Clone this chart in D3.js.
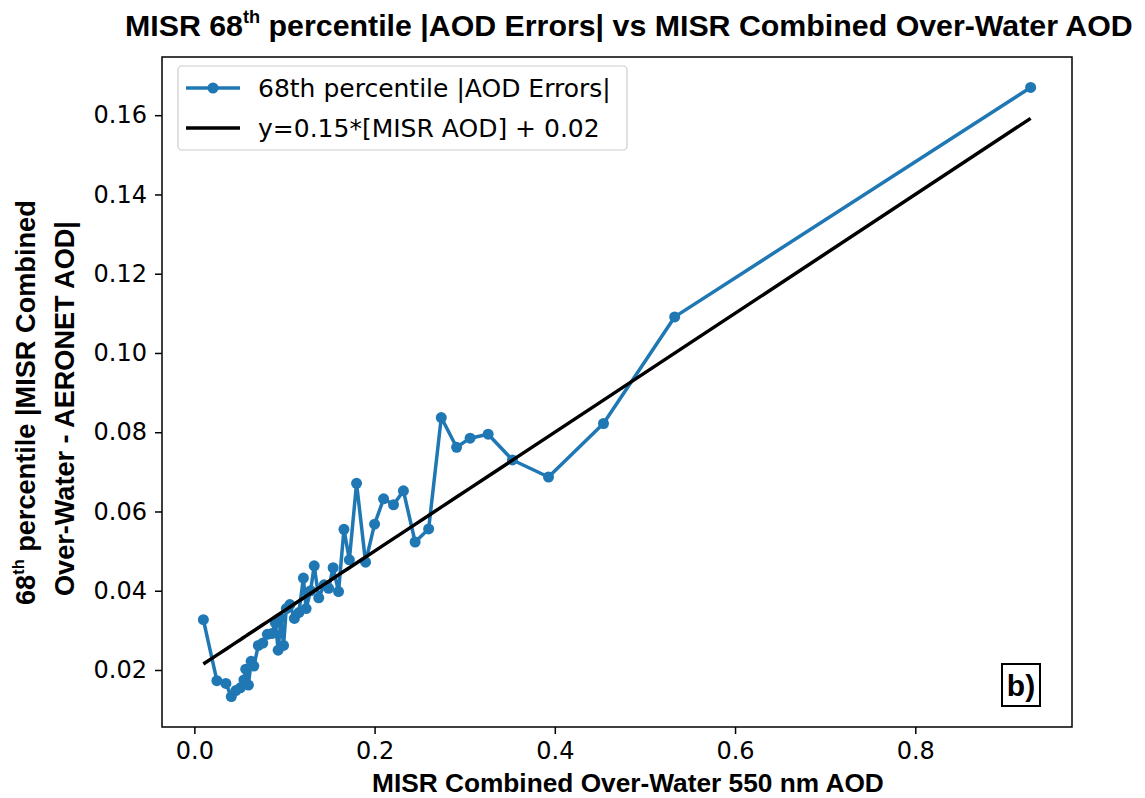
<html>
  <head>
    <script src="https://cdn.jsdelivr.net/npm/d3@7"></script>
    <style>
      body { margin: 0; background: #fff; }
    </style>
  </head>
  <body>
    <script>
      // binned MISR AOD (x) and 68th percentile |AOD error| (y)
      const misrAod = [
        0.010, 0.025, 0.035, 0.041, 0.046, 0.051, 0.055, 0.057, 0.060, 0.063,
        0.066, 0.071, 0.076, 0.081, 0.086, 0.090, 0.093, 0.096, 0.099, 0.102,
        0.106, 0.111, 0.116, 0.121, 0.124, 0.129, 0.133, 0.138, 0.144, 0.149,
        0.154, 0.160, 0.166, 0.172, 0.180, 0.190, 0.200, 0.210, 0.221, 0.232,
        0.245, 0.260, 0.274, 0.291, 0.306, 0.326, 0.353, 0.393, 0.454, 0.533,
        0.928
      ];
      const aodErr68 = [
        0.0327, 0.0173, 0.0166, 0.0133, 0.0148, 0.0155, 0.0175, 0.0202, 0.0162, 0.0222,
        0.0210, 0.0262, 0.0268, 0.0290, 0.0292, 0.0318, 0.0250, 0.0330, 0.0262, 0.0355,
        0.0365, 0.0330, 0.0345, 0.0432, 0.0355, 0.0400, 0.0463, 0.0382, 0.0415, 0.0406,
        0.0458, 0.0398, 0.0555, 0.0478, 0.0671, 0.0472, 0.0568, 0.0632, 0.0617, 0.0652,
        0.0523, 0.0556, 0.0837, 0.0762, 0.0785, 0.0795, 0.0730, 0.0687, 0.0822, 0.1091,
        0.1670
      ];
      const xTicks = [0.0, 0.2, 0.4, 0.6, 0.8];
      const yTicks = [0.02, 0.04, 0.06, 0.08, 0.10, 0.12, 0.14, 0.16];
      const slope = 0.15, intercept = 0.02;

      const width = 1145, height = 798;
      const plotL = 162, plotR = 1072, plotT = 57, plotB = 727;
      const boldFont = "'Liberation Sans Narrow', 'Liberation Sans', sans-serif";
      const tickFont = "'DejaVu Sans', sans-serif";

      const svg = d3.select("body").append("svg")
          .attr("width", width)
          .attr("height", height);

      const points = misrAod.map((x, i) => ({ x: x, y: aodErr68[i] }));
      const fitLine = misrAod.map(x => ({ x: x, y: slope * x + intercept }));

      // matplotlib-like 5% auto margins
      const xExt = d3.extent(misrAod), xPad = (xExt[1] - xExt[0]) * 0.05;
      const allY = aodErr68.concat(fitLine.map(d => d.y));
      const yExt = d3.extent(allY), yPad = (yExt[1] - yExt[0]) * 0.05;

      const xScale = d3.scaleLinear()
          .domain([xExt[0] - xPad, xExt[1] + xPad])
          .range([plotL, plotR]);
      const yScale = d3.scaleLinear()
          .domain([yExt[0] - yPad, yExt[1] + yPad])
          .range([plotB, plotT]);

      const line = d3.line()
          .x(d => xScale(d.x))
          .y(d => yScale(d.y));

      // data line + markers
      svg.append("path")
          .datum(points)
          .attr("fill", "none")
          .attr("stroke", "#1f77b4")
          .attr("stroke-width", 3.5)
          .attr("stroke-linejoin", "round")
          .attr("d", line);

      svg.append("g").selectAll("circle")
          .data(points)
          .join("circle")
          .attr("cx", d => xScale(d.x))
          .attr("cy", d => yScale(d.y))
          .attr("r", 5.5)
          .attr("fill", "#1f77b4");

      // fit line
      svg.append("path")
          .datum(fitLine)
          .attr("fill", "none")
          .attr("stroke", "#000")
          .attr("stroke-width", 3.5)
          .attr("d", line);

      // axes
      const xAxis = svg.append("g")
          .attr("transform", `translate(0,${plotB})`)
          .call(d3.axisBottom(xScale).tickValues(xTicks).tickFormat(d3.format(".1f")).tickSize(7).tickPadding(8));
      const yAxis = svg.append("g")
          .attr("transform", `translate(${plotL},0)`)
          .call(d3.axisLeft(yScale).tickValues(yTicks).tickFormat(d3.format(".2f")).tickSize(7).tickPadding(8));

      [xAxis, yAxis].forEach(ax => {
        ax.select(".domain").remove();
        ax.selectAll("line").attr("stroke", "#000").attr("stroke-width", 1.5);
        ax.selectAll("text")
            .style("font-family", tickFont)
            .style("font-size", "24px")
            .attr("fill", "#000");
      });

      // frame
      svg.append("rect")
          .attr("x", plotL).attr("y", plotT)
          .attr("width", plotR - plotL).attr("height", plotB - plotT)
          .attr("fill", "none")
          .attr("stroke", "#000")
          .attr("stroke-width", 1.5);

      // legend
      const lg = svg.append("g");
      lg.append("rect")
          .attr("x", 178).attr("y", 66)
          .attr("width", 449).attr("height", 84)
          .attr("rx", 4)
          .attr("fill", "#fff").attr("fill-opacity", 0.8)
          .attr("stroke", "#ccc").attr("stroke-width", 1.2);
      const legendItems = [
        { label: "68th percentile |AOD Errors|", color: "#1f77b4", marker: true },
        { label: "y=0.15*[MISR AOD] + 0.02", color: "#000", marker: false }
      ];
      legendItems.forEach((it, i) => {
        const yy = 88 + i * 40;
        lg.append("line")
            .attr("x1", 186).attr("x2", 240)
            .attr("y1", yy).attr("y2", yy)
            .attr("stroke", it.color).attr("stroke-width", 3.5);
        if (it.marker) {
          lg.append("circle").attr("cx", 213).attr("cy", yy).attr("r", 5.5).attr("fill", it.color);
        }
        lg.append("text")
            .attr("x", 258).attr("y", yy + 9)
            .style("font-family", tickFont)
            .style("font-size", "25px")
            .text(it.label);
      });

      // bold label, sized so it spans the wanted width (superscript in em units)
      function boldLabel(transform, target, parts) {
        const t = svg.append("text")
            .attr("transform", transform)
            .style("font-family", boldFont)
            .style("font-weight", "bold")
            .style("font-size", "30px");
        parts.forEach(p => {
          const s = t.append("tspan").text(p.text);
          if (p.sup) s.attr("dy", "-0.7em").style("font-size", "0.6em");
          else if (p.after) s.attr("dy", "0.42em");
        });
        const w = t.node().getComputedTextLength();
        t.style("font-size", (30 * target / w) + "px");
        return t;
      }

      boldLabel("translate(125,36)", 1008, [
        { text: "MISR 68" }, { text: "th", sup: true },
        { text: " percentile |AOD Errors| vs MISR Combined Over-Water AOD", after: true }
      ]);

      boldLabel("translate(372,792)", 512, [
        { text: "MISR Combined Over-Water 550 nm AOD" }
      ]);

      boldLabel("translate(35,605) rotate(-90)", 405, [
        { text: "68" }, { text: "th", sup: true },
        { text: " percentile |MISR Combined", after: true }
      ]);

      boldLabel("translate(74,596) rotate(-90)", 375, [
        { text: "Over-Water - AERONET AOD|" }
      ]);

      // panel tag
      svg.append("rect")
          .attr("x", 1002).attr("y", 664)
          .attr("width", 38).attr("height", 42)
          .attr("fill", "#fff")
          .attr("stroke", "#000").attr("stroke-width", 2);
      svg.append("text")
          .attr("x", 1021).attr("y", 696)
          .attr("text-anchor", "middle")
          .style("font-family", boldFont)
          .style("font-weight", "bold")
          .style("font-size", "30px")
          .text("b)");
    </script>
  </body>
</html>
